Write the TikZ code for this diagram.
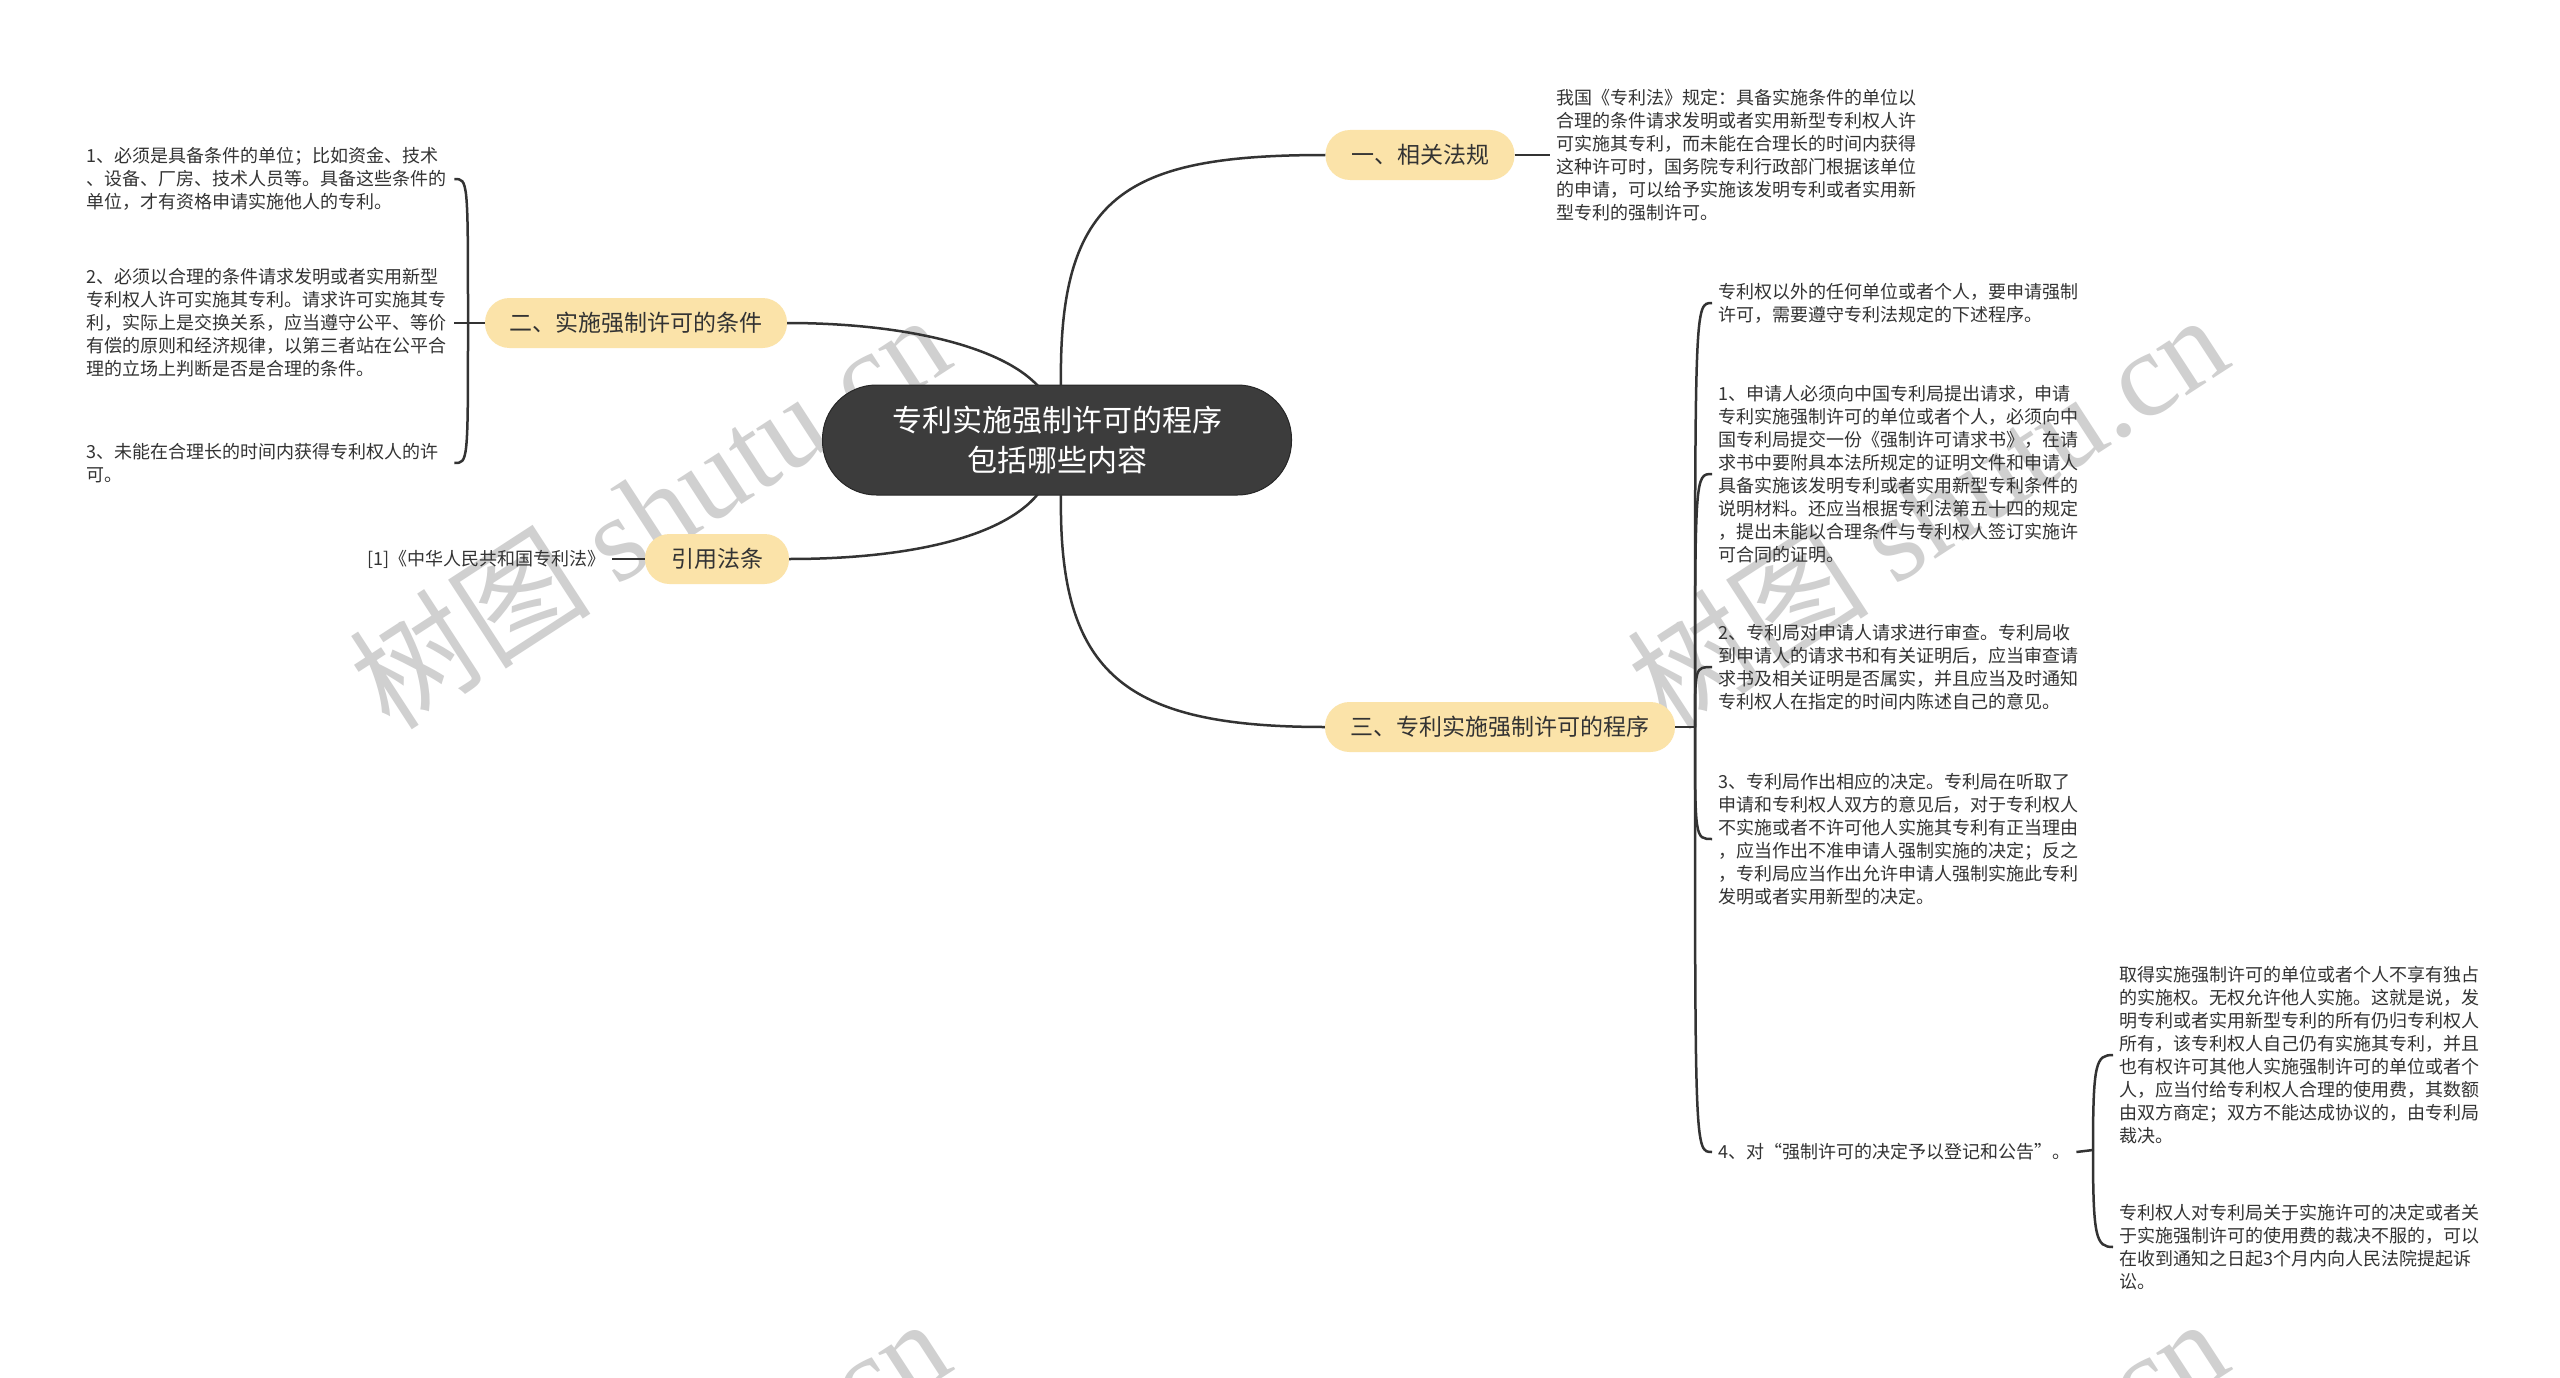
\documentclass[tikz,border=0pt]{standalone}
\usepackage{fontspec}
\setmainfont{Noto Sans CJK SC}
\newfontfamily\wmserif{Liberation Serif}
\definecolor{lc}{HTML}{333333}
\definecolor{txt}{HTML}{333333}
\definecolor{pillc}{HTML}{FBE3A9}
\definecolor{rootc}{HTML}{3C3C3C}
\definecolor{wmc}{HTML}{D0D0D0}
\begin{document}
\begin{tikzpicture}[x=1pt,y=-1pt,
  line/.style={draw=lc, line width=2.5pt},
  rootbox/.style={fill=rootc, draw=black!85, line width=1pt, rounded corners=54pt,
    minimum width=469pt, minimum height=110pt, align=center, text=white,
    font=\fontsize{30}{40}\selectfont, inner sep=0pt},
  pill/.style={fill=pillc, rounded corners=24.5pt, minimum height=50pt, inner sep=0pt,
    font=\fontsize{23}{28}\selectfont, text=txt},
  leaf/.style={align=left, inner sep=6pt, font=\fontsize{18}{23}\selectfont, text=txt},
  lleaf/.style={leaf, text width=362pt},
  wm/.style={text=wmc, rotate=33, inner sep=0pt, font=\fontsize{121}{121}\selectfont}
]
\useasboundingbox (0,0) rectangle (2560,1378);
\fill[white] (0,0) rectangle (2560,1378);

% watermarks
\begin{scope}
\clip (0,0) rectangle (2560,1378);
\node[wm] (wm1) at (649,510) {树图 {\wmserif shutu.cn}};
\node[wm] (wm2) at (1927,510) {树图 {\wmserif shutu.cn}};
\node[wm] (wm3) at (649,1514) {树图 {\wmserif shutu.cn}};
\node[wm] (wm4) at (1927,1514) {树图 {\wmserif shutu.cn}};
\end{scope}

% root
\node[rootbox] (root) at (1057,440) {专利实施强制许可的程序\\包括哪些内容};
\coordinate (rtl) at (1038,386);
\coordinate (rtr) at (1061,386);
\coordinate (rbl) at (1038,494);
\coordinate (rbr) at (1061,494);

% main branches
\node[pill, minimum width=189pt] (p1) at (1420,155) {一、相关法规};
\node[pill, minimum width=302pt] (p2) at (636,323) {二、实施强制许可的条件};
\node[pill, minimum width=144pt] (p4) at (717,559) {引用法条};
\node[pill, minimum width=350pt] (p3) at (1500,727) {三、专利实施强制许可的程序};

\draw[line] (rtr) .. controls (1058,195) and (1125,155) .. (p1.west);
\draw[line] (rbr) .. controls (1058,675) and (1125,727) .. (p3.west);
\draw[line] (p2.east) .. controls (900,323) and (1000,345) .. (rtl);
\draw[line] (p4.east) .. controls (900,559) and (1000,540) .. (rbl);

% branch 1
\node[leaf, anchor=west] (l1) at (1550,155) {我国《专利法》规定：具备实施条件的单位以\\合理的条件请求发明或者实用新型专利权人许\\可实施其专利，而未能在合理长的时间内获得\\这种许可时，国务院专利行政部门根据该单位\\的申请，可以给予实施该发明专利或者实用新\\型专利的强制许可。};
\draw[line] (p1.east) -- (l1.west);

% branch 2
\node[lleaf, anchor=west] (c21) at (80,179) {1、必须是具备条件的单位；比如资金、技术\\、设备、厂房、技术人员等。具备这些条件的\\单位，才有资格申请实施他人的专利。};
\node[lleaf, anchor=west] (c22) at (80,323) {2、必须以合理的条件请求发明或者实用新型\\专利权人许可实施其专利。请求许可实施其专\\利，实际上是交换关系，应当遵守公平、等价\\有偿的原则和经济规律，以第三者站在公平合\\理的立场上判断是否是合理的条件。};
\node[lleaf, anchor=west] (c23) at (80,463) {3、未能在合理长的时间内获得专利权人的许\\可。};
\coordinate (j2) at (468,323);
\draw[line] (p2.west) -- (c22.east);
\draw[line] (j2) .. controls (468,179) .. (c21.east);
\draw[line] (j2) .. controls (468,463) .. (c23.east);

% citation
\node[leaf, anchor=east] (c41) at (612,559) {[1]《中华人民共和国专利法》};
\draw[line] (p4.west) -- (c41.east);

% branch 3
\coordinate (j3) at (1695,727);
\draw[line] (p3.east) -- (j3);
\node[leaf, anchor=west] (c30) at (1712,303) {专利权以外的任何单位或者个人，要申请强制\\许可，需要遵守专利法规定的下述程序。};
\node[leaf, anchor=west] (c31) at (1712,474) {1、申请人必须向中国专利局提出请求，申请\\专利实施强制许可的单位或者个人，必须向中\\国专利局提交一份《强制许可请求书》，在请\\求书中要附具本法所规定的证明文件和申请人\\具备实施该发明专利或者实用新型专利条件的\\说明材料。还应当根据专利法第五十四的规定\\，提出未能以合理条件与专利权人签订实施许\\可合同的证明。};
\node[leaf, anchor=west] (c32) at (1712,667) {2、专利局对申请人请求进行审查。专利局收\\到申请人的请求书和有关证明后，应当审查请\\求书及相关证明是否属实，并且应当及时通知\\专利权人在指定的时间内陈述自己的意见。};
\node[leaf, anchor=west] (c33) at (1712,839) {3、专利局作出相应的决定。专利局在听取了\\申请和专利权人双方的意见后，对于专利权人\\不实施或者不许可他人实施其专利有正当理由\\，应当作出不准申请人强制实施的决定；反之\\，专利局应当作出允许申请人强制实施此专利\\发明或者实用新型的决定。};
\node[leaf, anchor=west] (c34) at (1712,1152) {4、对“强制许可的决定予以登记和公告”。};
\foreach \c in {c30,c31,c32,c33,c34}{
  \draw[line] (j3) .. controls (j3 |- \c.west) .. (\c.west);
}

% branch 3.4
\coordinate (j4) at (2093,1150);
\draw[line] (c34.east) -- (j4);
\node[leaf, anchor=west] (c4a) at (2113,1055) {取得实施强制许可的单位或者个人不享有独占\\的实施权。无权允许他人实施。这就是说，发\\明专利或者实用新型专利的所有仍归专利权人\\所有，该专利权人自己仍有实施其专利，并且\\也有权许可其他人实施强制许可的单位或者个\\人，应当付给专利权人合理的使用费，其数额\\由双方商定；双方不能达成协议的，由专利局\\裁决。};
\node[leaf, anchor=west] (c4b) at (2113,1247) {专利权人对专利局关于实施许可的决定或者关\\于实施强制许可的使用费的裁决不服的，可以\\在收到通知之日起3个月内向人民法院提起诉\\讼。};
\draw[line] (j4) .. controls (2093,1062) and (2096,1055) .. (c4a.west);
\draw[line] (j4) .. controls (2093,1238) and (2096,1247) .. (c4b.west);
\end{tikzpicture}
\end{document}
